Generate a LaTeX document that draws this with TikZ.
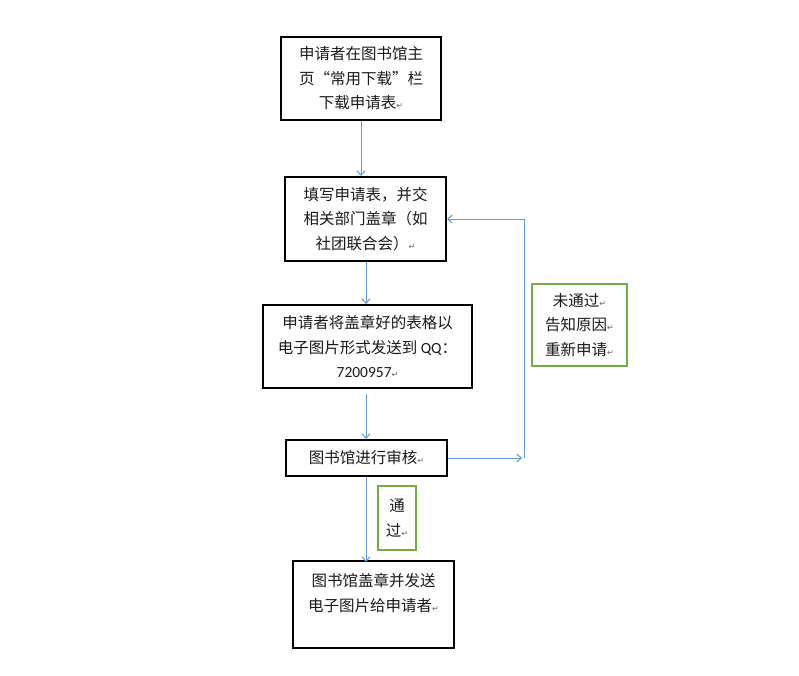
\documentclass[tikz,border=0pt]{standalone}
\usepackage{fontspec}
\setmainfont{Noto Sans CJK SC}
\newfontfamily\latinfont{Carlito}
\newfontfamily\symfont{DejaVu Sans}
\usetikzlibrary{arrows.meta}
\definecolor{lineblue}{HTML}{5B9BD5}
\definecolor{boxgreen}{HTML}{70AD47}
\definecolor{txt}{HTML}{1A1A1A}
\newcommand{\parmark}{{\symfont\fontsize{8}{8}\selectfont\textcolor{gray!80!black}{↵}}}
\tikzset{
  blackbox/.style={draw=black, line width=2pt, rectangle, align=center, inner sep=0pt,
    text=txt, font=\fontsize{15.5}{24.5}\selectfont},
  greenbox/.style={draw=boxgreen, line width=2pt, rectangle, align=center, inner sep=0pt,
    text=txt, font=\fontsize{15.5}{24.5}\selectfont},
  conn/.style={draw=lineblue, line width=1pt, -{Straight Barb[length=4.5pt,width=8pt,line width=1pt]}}
}
\begin{document}
\begin{tikzpicture}[x=1pt,y=-1pt]
\useasboundingbox (0,0) rectangle (799,676);
\fill[white] (0,0) rectangle (799,676);
% main boxes
\node[blackbox, minimum width=160pt, minimum height=83pt] (b1) at (361,78.5)
  {申请者在图书馆主\\页“常用下载”栏\\下载申请表\parmark};
\node[blackbox, minimum width=161pt, minimum height=84pt] (b2) at (365.5,219)
  {填写申请表，并交\\相关部门盖章（如\\社团联合会）\parmark};
\node[blackbox, minimum width=209pt, minimum height=83pt] (b3) at (367.5,346.5)
  {申请者将盖章好的表格以\\电子图片形式发送到 {\latinfont QQ}：\\{\latinfont 7200957}\parmark};
\node[blackbox, minimum width=161pt, minimum height=36pt] (b4) at (366.5,458)
  {图书馆进行审核\parmark};
\node[blackbox, minimum width=161pt, minimum height=87pt] (b5) at (373.5,604.5)
  {图书馆盖章并发送\\电子图片给申请者\parmark\\\mbox{}};
% green label boxes
\node[greenbox, minimum width=95pt, minimum height=82pt] (g1) at (579.5,325)
  {未通过\parmark\\告知原因\parmark\\重新申请\parmark};
\node[greenbox, minimum width=38pt, minimum height=64pt] (g2) at (397,518)
  {通\\过\parmark};
% connectors
\coordinate (fbtip) at (b4.east -| 522,0);
\coordinate (fbcorner) at (b4.east -| 524.5,0);
\draw[conn] (b1.south) -- (b2.north -| b1.south);
\draw[conn] (b2.south -| 366,0) -- (b3.north -| 366,0);
\draw[conn] (b3.south -| 366,0) ++(0,5) -- (b4.north -| 366,0);
\draw[conn] (b4.south -| 366,0) -- ([yshift=-2pt]b5.north -| 366,0);
\draw[conn] (b4.east) -- (fbtip);
\draw[conn] (fbcorner) |- (b2.east);
\end{tikzpicture}
\end{document}
